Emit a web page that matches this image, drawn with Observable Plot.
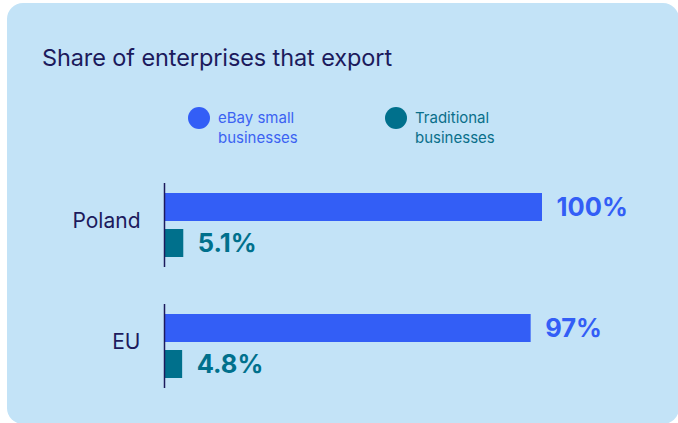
<!DOCTYPE html>
<html>
<head>
<meta charset="utf-8">
<script src="https://cdn.jsdelivr.net/npm/d3@7"></script>
<script src="https://cdn.jsdelivr.net/npm/@observablehq/plot@0.6"></script>
<style>
  html, body { margin: 0; padding: 0; background: #ffffff; width: 678px; height: 423px; overflow: hidden; font-family: Inter, "Noto Sans", sans-serif; }
  #card { position: absolute; left: 7px; top: 3px; width: 672px; height: 421px; background: #c3e3f7; border-radius: 16px; }
  #title { position: absolute; left: 42px; top: 43px; font-size: 23.5px; color: #1c1a5c; font-weight: 400; letter-spacing: -0.1px; white-space: nowrap; }
  .leg { position: absolute; top: 107px; display: flex; align-items: flex-start; }
  .dot { width: 22px; height: 22px; border-radius: 50%; margin-top: 0px; }
  .lt { font-size: 15px; line-height: 19.5px; margin-left: 8px; margin-top: 1px; }
  #chart { position: absolute; left: 0; top: 170px; }
</style>
</head>
<body>
<div id="card"></div>
<div id="title">Share of enterprises that export</div>
<div id="legend"></div>
<div id="chart"></div>
<script>
const countries = ["Poland", "EU"];
const series = ["eBay small businesses", "Traditional businesses"];
const ebayValues = [100, 97];
const traditionalValues = [5.1, 4.8];
const valueLabels = [["100%", "5.1%"], ["97%", "4.8%"]];
const colors = ["#335ef6", "#00708c"];
const legendText = ["eBay small<br>businesses", "Traditional<br>businesses"];
const legendTextColors = ["#3b62f2", "#0a6f8a"];
const legendLeft = [188, 385];

const data = [];
countries.forEach((c, i) => {
  data.push({country: c, series: series[0], value: ebayValues[i], label: valueLabels[i][0]});
  data.push({country: c, series: series[1], value: traditionalValues[i], label: valueLabels[i][1]});
});

const legend = document.getElementById("legend");
series.forEach((s, i) => {
  const d = document.createElement("div");
  d.className = "leg";
  d.style.left = legendLeft[i] + "px";
  d.innerHTML = `<div class="dot" style="background:${colors[i]}"></div><div class="lt" style="color:${legendTextColors[i]}">${legendText[i]}</div>`;
  legend.appendChild(d);
});

const plot = Plot.plot({
  width: 678,
  height: 235,
  marginLeft: 164,
  marginRight: 136,
  marginTop: 13,
  marginBottom: 16,
  style: {background: "transparent", fontFamily: "Inter, 'Noto Sans', sans-serif"},
  x: {domain: [0, 100], axis: null},
  y: {domain: series, axis: null, paddingInner: 0.22, paddingOuter: 0.27},
  fy: {domain: countries, padding: 0.303, paddingOuter: 0, label: null},
  color: {domain: series, range: colors},
  marks: [
    Plot.barX(data, {fy: "country", y: "series", x: "value", fill: "series"}),
    Plot.ruleX([0], {stroke: "#1c1a5c", strokeWidth: 1.5}),
    Plot.text(data, {fy: "country", y: "series", x: "value", text: "label", fill: "series",
      textAnchor: "start", dx: 14, fontSize: 25.5, fontWeight: 700}),
    Plot.axisFy({anchor: "left", tickSize: 0, tickPadding: 24, fontSize: 21, dy: -4, fill: "#1c1a5c", label: null})
  ]
});
document.getElementById("chart").appendChild(plot);
</script>
</body>
</html>
